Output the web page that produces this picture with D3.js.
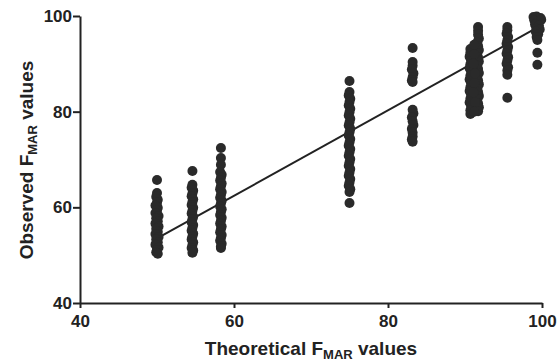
<!DOCTYPE html>
<html>
<head>
<meta charset="utf-8">
<script src="https://cdn.jsdelivr.net/npm/d3@7"></script>
<style>
  body { margin: 0; background: #fff; }
  text { font-family: "Liberation Sans", Arial, sans-serif; font-weight: bold; fill: #222; }
</style>
</head>
<body>
<div id="chart"></div>
<script>
// observed vs theoretical F_MAR, one array per theoretical group: [x, y]
const group50 = [[50.0,65.7],[50.0,63.0],[49.9,62.2],[50.1,61.6],[50.0,61.0],[49.8,60.4],[50.1,59.9],[50.0,59.3],[49.8,58.8],[50.2,58.2],[49.9,57.7],[50.1,57.1],[49.8,56.6],[50.2,56.0],[49.9,55.5],[50.1,54.9],[49.8,54.4],[50.2,53.8],[49.9,53.3],[50.1,52.7],[49.8,52.2],[50.2,51.6],[50.0,51.1],[49.9,50.6],[50.1,50.3]];
const group55 = [[54.6,67.6],[54.6,64.7],[54.5,64.1],[54.7,63.5],[54.6,62.9],[54.5,62.3],[54.7,61.7],[54.6,61.1],[54.5,60.5],[54.7,59.9],[54.6,59.3],[54.5,58.7],[54.7,58.1],[54.6,57.5],[54.5,56.9],[54.7,56.3],[54.6,55.7],[54.5,55.1],[54.7,54.5],[54.6,53.9],[54.5,53.3],[54.7,52.7],[54.6,52.1],[54.5,51.5],[54.7,51.0],[54.6,50.5]];
const group58 = [[58.3,72.4],[58.3,70.3],[58.3,68.9],[58.2,67.4],[58.4,66.8],[58.3,66.2],[58.2,65.6],[58.4,65.0],[58.3,64.4],[58.2,63.8],[58.4,63.2],[58.3,62.6],[58.2,62.0],[58.4,61.4],[58.3,60.8],[58.2,60.2],[58.4,59.6],[58.3,59.0],[58.2,58.4],[58.4,57.8],[58.3,57.2],[58.2,56.6],[58.4,56.0],[58.3,55.4],[58.2,54.8],[58.4,54.2],[58.3,53.6],[58.2,53.0],[58.4,52.4],[58.3,51.8],[58.3,51.5]];
const group75 = [[75.0,86.4],[75.0,84.1],[74.9,83.4],[75.1,82.7],[75.0,82.0],[74.9,81.3],[75.1,80.6],[75.0,79.9],[74.9,79.2],[75.1,78.5],[75.0,77.8],[74.9,77.1],[75.1,76.4],[75.0,75.7],[74.9,75.0],[75.1,74.3],[75.0,73.6],[74.9,72.9],[75.1,72.2],[75.0,71.5],[74.9,70.8],[75.1,70.1],[75.0,69.4],[74.9,68.7],[75.1,68.0],[75.0,67.3],[74.9,66.6],[75.1,65.9],[75.0,65.2],[74.9,64.5],[75.1,63.8],[75.0,63.2],[75.0,60.9]];
const group83 = [[83.2,93.3],[83.2,90.4],[83.2,89.6],[83.1,88.8],[83.3,88.0],[83.2,87.2],[83.1,86.5],[83.2,86.2],[83.2,80.4],[83.3,79.6],[83.1,78.8],[83.2,78.0],[83.3,77.2],[83.1,76.4],[83.2,75.6],[83.2,74.8],[83.1,74.2],[83.2,73.7]];
const group91 = [[90.7,93.1],[90.7,92.3],[90.6,91.5],[90.8,90.7],[90.7,89.9],[90.6,89.1],[90.8,88.3],[90.7,87.5],[90.6,86.7],[90.8,85.9],[90.7,85.1],[90.6,84.3],[90.8,83.5],[90.7,82.7],[90.6,81.9],[90.8,81.1],[90.7,80.3],[90.7,79.5],
  [91.7,97.7],[91.7,96.9],[91.7,96.1],[91.8,95.3],[91.6,94.5],[91.7,93.7],[91.8,92.9],[91.6,92.1],[91.7,91.3],[91.8,90.5],[91.6,89.7],[91.7,88.9],[91.8,88.1],[91.6,87.3],[91.7,86.5],[91.8,85.7],[91.6,84.9],[91.7,84.1],[91.8,83.3],[91.6,82.5],[91.7,81.7],[91.8,80.9],[91.7,80.1],
  [91.2,94.0],[91.2,92.0],[91.1,90.0],[91.3,88.0],[91.2,86.0],[91.1,84.0],[91.3,82.0],[91.2,80.0]];
const group95 = [[95.5,97.7],[95.5,97.0],[95.4,96.3],[95.6,95.6],[95.5,94.9],[95.4,94.2],[95.6,93.5],[95.5,92.8],[95.4,92.1],[95.6,91.4],[95.5,90.7],[95.4,90.0],[95.6,89.3],[95.5,88.6],[95.5,87.7],[95.5,82.9]];
const group99 = [[98.9,99.8],[99.3,99.9],[99.8,99.6],[99.0,99.1],[99.5,98.8],[99.9,99.2],[99.1,98.2],[99.6,98.0],[99.3,97.4],[99.7,97.2],[99.2,96.7],[99.5,96.2],[99.3,95.6],[99.4,95.0],[99.4,92.3],[99.4,89.8]];

// linear fit line end points
const fitX = [50, 99.3];
const fitY = [53.5, 97.5];

const xTicks = [40, 60, 80, 100];
const yTicks = [40, 60, 80, 100];

const width = 560, height = 362;
const margin = { left: 80, right: 18, top: 16, bottom: 59 };

const svg = d3.select('#chart').append('svg')
  .attr('width', width)
  .attr('height', height);

const x = d3.scaleLinear().domain([40, 100]).range([margin.left, width - margin.right]);
const y = d3.scaleLinear().domain([40, 100]).range([height - margin.bottom, margin.top]);

// fit line
svg.append('line')
  .attr('x1', x(fitX[0])).attr('y1', y(fitY[0]))
  .attr('x2', x(fitX[1])).attr('y2', y(fitY[1]))
  .attr('stroke', '#222')
  .attr('stroke-width', 2);

const points = [].concat(group50, group55, group58, group75, group83, group91, group95, group99);

svg.append('g')
  .selectAll('circle')
  .data(points)
  .enter()
  .append('circle')
  .attr('cx', d => x(d[0]))
  .attr('cy', d => y(d[1]))
  .attr('r', 5)
  .attr('fill', '#2a2a2a');

// axes
const xAxis = svg.append('g')
  .attr('transform', `translate(0,${y(40)})`)
  .call(d3.axisBottom(x).tickValues(xTicks).tickSize(5).tickPadding(7).tickSizeOuter(0));
const yAxis = svg.append('g')
  .attr('transform', `translate(${x(40)},0)`)
  .call(d3.axisLeft(y).tickValues(yTicks).tickSize(7).tickPadding(1).tickSizeOuter(0));

[xAxis, yAxis].forEach(a => {
  a.select('.domain').attr('stroke', '#222').attr('stroke-width', 2);
  a.selectAll('.tick line').attr('stroke', '#222').attr('stroke-width', 2);
  a.selectAll('.tick text').style('font-size', '17px').attr('fill', '#222');
});

// axis titles
const xTitle = svg.append('text')
  .attr('x', (x(40) + x(100)) / 2)
  .attr('y', 355)
  .attr('text-anchor', 'middle')
  .style('font-size', '19px');
xTitle.append('tspan').text('Theoretical F');
xTitle.append('tspan').attr('dy', 4).style('font-size', '13px').text('MAR');
xTitle.append('tspan').attr('dy', -4).text(' values');

const yTitle = svg.append('text')
  .attr('transform', 'translate(33,160) rotate(-90)')
  .attr('text-anchor', 'middle')
  .style('font-size', '19px');
yTitle.append('tspan').text('Observed F');
yTitle.append('tspan').attr('dy', 4).style('font-size', '13px').text('MAR');
yTitle.append('tspan').attr('dy', -4).text(' values');
</script>
</body>
</html>
